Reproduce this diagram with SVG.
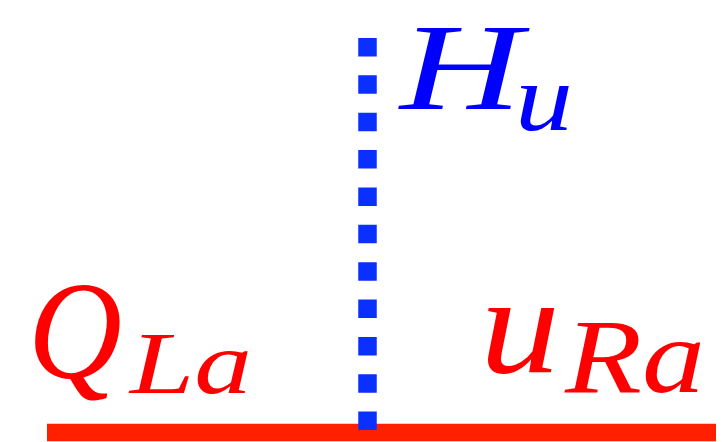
<svg xmlns="http://www.w3.org/2000/svg" width="725" height="442" viewBox="0 0 725 442">
<style>
.m{font-family:"Liberation Serif","DejaVu Serif",serif;font-style:italic}
.r{fill:#ff0000}
.b{fill:#0000ff}
</style>
<rect width="725" height="442" fill="#ffffff"/>
<g id="connectors">
<line x1="47" y1="432.5" x2="716" y2="432.5" stroke="#ff2000" stroke-width="17.5"/>
<line x1="367.5" y1="38" x2="367.5" y2="430" stroke="#0a30ff" stroke-width="18.5" stroke-dasharray="18.5 18.86"/>
</g>
<g id="Hu">
<text class="m b" x="400" y="109" font-size="122" textLength="122" lengthAdjust="spacingAndGlyphs">H</text>
<text class="m b" x="515" y="130" font-size="95" textLength="58" lengthAdjust="spacingAndGlyphs">u</text>
</g>
<g id="QLa">
<text class="m r" x="28" y="378" font-size="140" textLength="94" lengthAdjust="spacingAndGlyphs">Q</text>
<text class="m r" x="130" y="393" font-size="88" textLength="122" lengthAdjust="spacingAndGlyphs">La</text>
</g>
<g id="uRa">
<text class="m r" x="480" y="372" font-size="140" textLength="80" lengthAdjust="spacingAndGlyphs">u</text>
<text class="m r" x="565" y="392" font-size="105" textLength="140" lengthAdjust="spacingAndGlyphs">Ra</text>
</g>
</svg>
